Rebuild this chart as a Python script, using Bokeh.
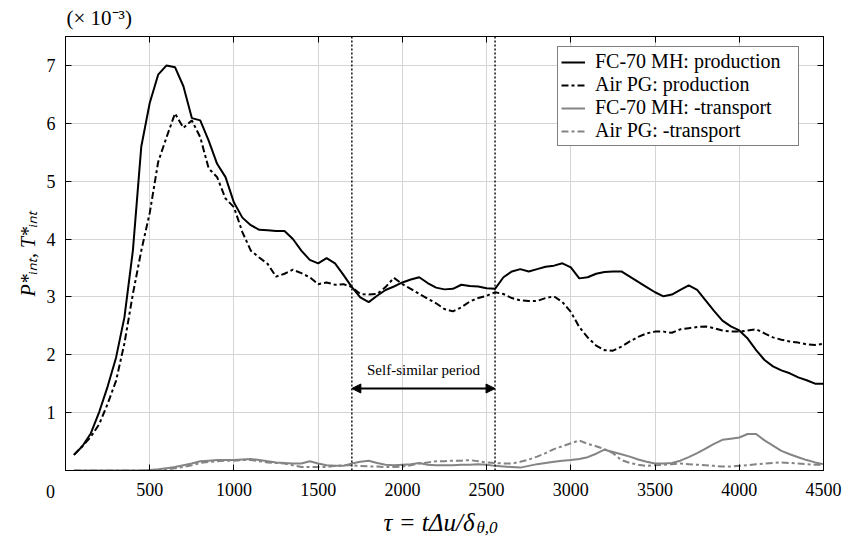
from bokeh.plotting import figure
from bokeh.models import (Range1d, LinearAxis, FixedTicker, Span, Arrow, NormalHead,
                          Label, Legend, LegendItem)
from bokeh.embed import file_html
from bokeh.resources import INLINE

# ---------------- data ----------------
tau = list(range(50, 4550, 50))

fc_production = [
    0.27, 0.42, 0.64, 1.01, 1.45, 1.95, 2.65, 3.80, 5.60, 6.35,
    6.84, 7.00, 6.97, 6.64, 6.09, 6.05, 5.70, 5.30, 5.07, 4.63,
    4.37, 4.24, 4.16, 4.15, 4.14, 4.14, 4.00, 3.80, 3.64, 3.58,
    3.67, 3.58, 3.38, 3.17, 2.99, 2.91, 3.02, 3.12, 3.18, 3.25,
    3.30, 3.34, 3.24, 3.16, 3.13, 3.14, 3.21, 3.19, 3.18, 3.15,
    3.14, 3.34, 3.44, 3.48, 3.44, 3.48, 3.52, 3.54, 3.58, 3.51,
    3.32, 3.34, 3.40, 3.43, 3.44, 3.44, 3.35, 3.26, 3.17, 3.08,
    3.01, 3.04, 3.12, 3.20, 3.12, 2.94, 2.76, 2.59, 2.49, 2.42,
    2.28, 2.08, 1.91, 1.80, 1.73, 1.68, 1.61, 1.56, 1.50, 1.50,
]

air_production = [
    0.27, 0.42, 0.58, 0.80, 1.15, 1.55, 2.20, 3.05, 3.80, 4.45,
    5.33, 5.76, 6.17, 5.92, 6.05, 5.76, 5.22, 5.07, 4.70, 4.55,
    4.12, 3.80, 3.68, 3.57, 3.35, 3.40, 3.47, 3.41, 3.34, 3.22,
    3.25, 3.21, 3.22, 3.17, 3.05, 3.04, 3.05, 3.17, 3.33, 3.22,
    3.14, 3.05, 2.97, 2.89, 2.79, 2.75, 2.82, 2.92, 2.98, 3.02,
    3.08, 3.05, 2.98, 2.94, 2.93, 2.93, 2.98, 3.01, 2.91, 2.74,
    2.48, 2.30, 2.16, 2.08, 2.07, 2.14, 2.23, 2.31, 2.37, 2.40,
    2.40, 2.38, 2.44, 2.46, 2.48, 2.49, 2.46, 2.42, 2.40, 2.40,
    2.42, 2.44, 2.37, 2.30, 2.26, 2.23, 2.21, 2.18, 2.17, 2.19,
]

fc_transport = [
    0.00, 0.00, 0.00, 0.00, 0.00, 0.00, 0.00, 0.00, 0.00, 0.01,
    0.02, 0.04, 0.06, 0.09, 0.12, 0.16, 0.17, 0.18, 0.18, 0.18,
    0.19, 0.20, 0.18, 0.16, 0.14, 0.13, 0.12, 0.12, 0.16, 0.12,
    0.09, 0.08, 0.08, 0.12, 0.15, 0.17, 0.13, 0.10, 0.09, 0.10,
    0.11, 0.13, 0.10, 0.09, 0.09, 0.09, 0.10, 0.10, 0.11, 0.10,
    0.08, 0.07, 0.06, 0.05, 0.08, 0.11, 0.13, 0.15, 0.17, 0.18,
    0.20, 0.23, 0.29, 0.36, 0.32, 0.28, 0.24, 0.19, 0.15, 0.12,
    0.12, 0.13, 0.17, 0.23, 0.30, 0.38, 0.46, 0.53, 0.55, 0.57,
    0.63, 0.63, 0.52, 0.43, 0.34, 0.28, 0.23, 0.18, 0.14, 0.11,
]

air_transport = [
    0.00, 0.00, 0.00, 0.00, 0.00, 0.00, 0.00, 0.00, 0.00, 0.00,
    0.01, 0.02, 0.04, 0.06, 0.09, 0.13, 0.15, 0.16, 0.17, 0.17,
    0.18, 0.18, 0.16, 0.14, 0.13, 0.12, 0.09, 0.06, 0.06, 0.06,
    0.06, 0.08, 0.09, 0.09, 0.08, 0.07, 0.07, 0.06, 0.06, 0.07,
    0.09, 0.12, 0.14, 0.16, 0.16, 0.17, 0.17, 0.18, 0.16, 0.14,
    0.13, 0.12, 0.12, 0.15, 0.19, 0.24, 0.30, 0.37, 0.42, 0.47,
    0.52, 0.46, 0.42, 0.37, 0.30, 0.18, 0.13, 0.10, 0.08, 0.09,
    0.10, 0.11, 0.12, 0.11, 0.10, 0.09, 0.08, 0.07, 0.07, 0.08,
    0.09, 0.11, 0.12, 0.13, 0.14, 0.13, 0.12, 0.11, 0.10, 0.10,
]

series_labels = ["FC-70 MH: production", "Air PG: production",
                 "FC-70 MH: -transport", "Air PG: -transport"]
x_ticks = [0, 500, 1000, 1500, 2000, 2500, 3000, 3500, 4000, 4500]
y_ticks = [1, 2, 3, 4, 5, 6, 7]
period_start = 1700
period_end = 2550

# ---------------- figure ----------------
FONT = "Liberation Serif"
X_MAX, Y_MAX = 4500, 7.5
FW, FH = 758, 434
LEFT, TOP = 65, 36
p = figure(frame_width=FW, frame_height=FH,
           x_range=Range1d(0, X_MAX), y_range=Range1d(0, Y_MAX),
           output_backend="svg", toolbar_location=None,
           min_border_left=LEFT, min_border_right=23,
           min_border_top=TOP, min_border_bottom=68,
           background_fill_color="white", border_fill_color="white")
p.outline_line_color = "black"
p.outline_line_width = 1

# picture pixel -> data helpers (annotation placement only)
def dx(px):
    return (px - LEFT) * X_MAX / FW
def dy(py):
    return (TOP + FH - py) * Y_MAX / FH

def style_axis(ax, ticks, show_labels):
    ax.ticker = FixedTicker(ticks=ticks)
    ax.minor_tick_line_color = None
    ax.major_tick_in = 6
    ax.major_tick_out = 0
    ax.major_tick_line_color = "black"
    ax.axis_line_color = "black"
    ax.major_label_text_font = FONT
    ax.major_label_text_font_size = "18px"
    ax.major_label_text_color = "black"
    if not show_labels:
        ax.major_label_overrides = {t: "" for t in ticks}

style_axis(p.xaxis[0], x_ticks, True)
p.xaxis[0].major_label_overrides = {0: ""}
p.xaxis[0].major_label_standoff = 12
style_axis(p.yaxis[0], y_ticks, True)
p.yaxis[0].major_label_standoff = 10

top_axis = LinearAxis()
style_axis(top_axis, x_ticks, False)
top_axis.major_label_standoff = 0
p.add_layout(top_axis, "above")
right_axis = LinearAxis()
style_axis(right_axis, y_ticks, False)
right_axis.major_label_standoff = 0
p.add_layout(right_axis, "right")

p.xgrid.ticker = FixedTicker(ticks=x_ticks)
p.ygrid.ticker = FixedTicker(ticks=y_ticks)
for g in (p.xgrid[0], p.ygrid[0]):
    g.grid_line_color = "#d4d4d4"
    g.grid_line_width = 1

# ---------------- lines ----------------
GRAY = "#848484"
r1 = p.line(tau, fc_production, line_color="black", line_width=2)
r2 = p.line(tau, air_production, line_color="black", line_width=2, line_dash="7 3 3 3")
r3 = p.line(tau, fc_transport, line_color=GRAY, line_width=2)
r4 = p.line(tau, air_transport, line_color=GRAY, line_width=2, line_dash="7 3 3 3")

# self-similar period
for loc in (period_start, period_end):
    p.add_layout(Span(location=loc, dimension="height", line_color="black",
                      line_width=1.4, line_dash="2 2"))
ay = dy(388)
p.add_layout(Arrow(x_start=period_start, y_start=ay, x_end=period_end, y_end=ay,
                   line_width=2, line_color="black",
                   start=NormalHead(size=9, fill_color="black", line_color="black"),
                   end=NormalHead(size=9, fill_color="black", line_color="black")))
p.add_layout(Label(x=(period_start + period_end) / 2, y=dy(369), text="Self-similar period",
                   text_align="center", text_baseline="alphabetic",
                   text_font=FONT, text_font_size="15px", text_color="black"))

# ---------------- legend ----------------
legend = Legend(items=[LegendItem(label=l, renderers=[r]) for l, r in
                       zip(series_labels, [r1, r2, r3, r4])],
                location=(492, 324))
legend.label_text_font = FONT
legend.label_text_font_size = "20px"
legend.label_text_color = "black"
legend.glyph_width = 24
legend.glyph_height = 18
legend.label_height = 18
legend.label_width = 200
legend.label_standoff = 10
legend.padding = 3
legend.spacing = 0
legend.margin = 0
legend.border_line_color = "black"
legend.border_line_width = 1
legend.background_fill_alpha = 1
p.add_layout(legend)

# ---------------- texts outside the frame (side panels are not clipped) ----------------
def lab(x, y, text, size, italic=False, angle=0, align="left", panel="left"):
    p.add_layout(Label(x=x, y=y, text=text, text_font=FONT, text_font_size=size,
                       text_font_style="italic" if italic else "normal",
                       text_align=align, text_baseline="alphabetic", angle=angle,
                       angle_units="deg", text_color="black"), panel)

# scale factor
lab(dx(66), dy(17), "(× 10⁻³)", "21px", panel="above")

# y axis label: P*_int, T*_int (rotated)
lab(dx(27), dy(296), "P*ᵢₙₜ, T*ᵢₙₜ", "20px", italic=True, angle=90, panel="left")

# x axis label: τ = tΔu/δ_{θ,0}
lab(dx(383), dy(522), "τ = tΔu/δ", "25px", italic=True, panel="below")
lab(dx(476), dy(527), "θ,0", "17px", italic=True, panel="left")

# x tick "0" sits in the corner
lab(dx(50), dy(491), "0", "18px", align="center", panel="right")

open("out.html", "w").write(file_html(p, INLINE))
